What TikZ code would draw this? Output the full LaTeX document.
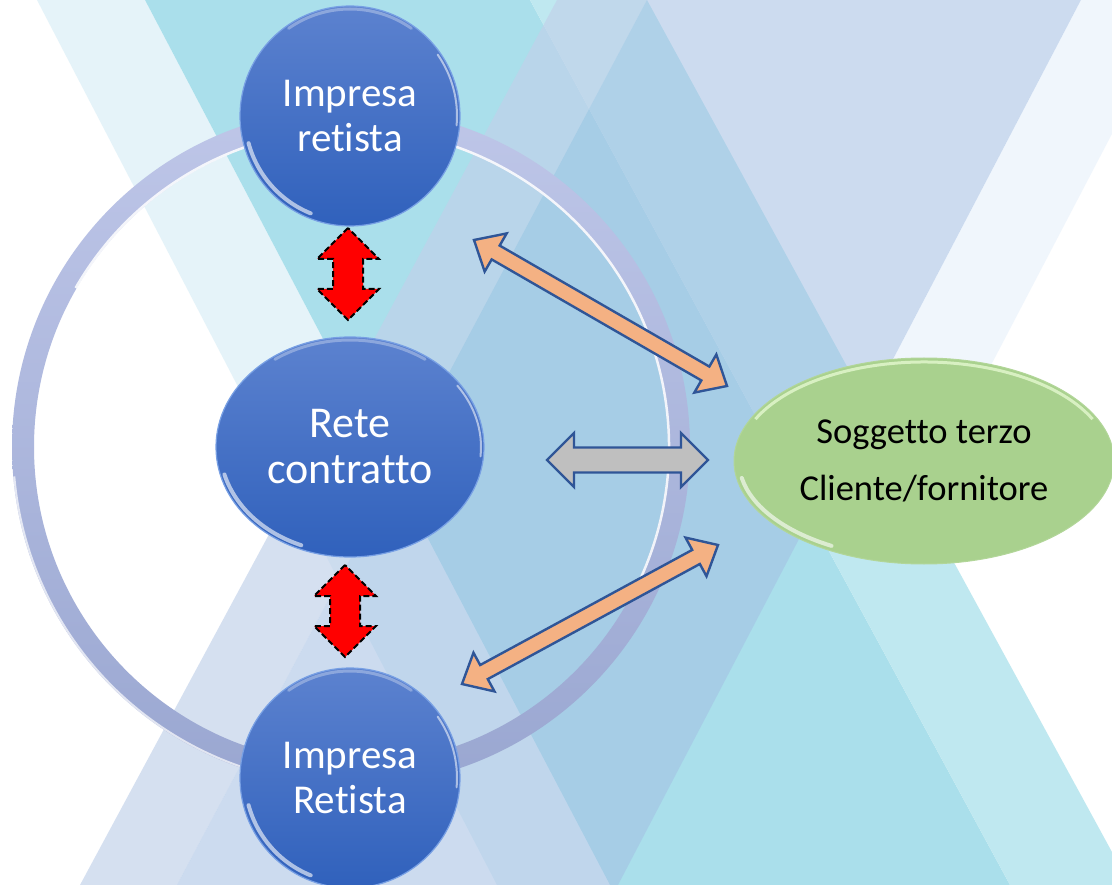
\documentclass[tikz,border=0pt]{standalone}
\usepackage{fontspec}
\setmainfont{Carlito}[Ligatures={NoCommon,NoContextual,NoRare}]
\usetikzlibrary{shapes.geometric}
\definecolor{bgE}{RGB}{229,243,249}
\definecolor{bgF}{RGB}{170,223,235}
\definecolor{bgG}{RGB}{191,232,240}
\definecolor{bgA}{RGB}{193,209,234}
\definecolor{bgB}{RGB}{163,191,227}
\definecolor{bgC}{RGB}{222,236,250}
\definecolor{ringTop}{RGB}{190,198,232}
\definecolor{ringBot}{RGB}{154,167,209}
\definecolor{blueTop}{RGB}{92,130,207}
\definecolor{blueBot}{RGB}{48,97,188}
\definecolor{blueRim}{RGB}{120,160,228}
\definecolor{greenFill}{RGB}{169,209,142}
\definecolor{greenRim}{RGB}{222,244,200}
\definecolor{arrowLine}{RGB}{47,85,151}
\definecolor{orangeFill}{RGB}{244,177,131}
\definecolor{grayFill}{RGB}{191,191,191}
\newdimen\baXa \newdimen\baYa \newdimen\baXb \newdimen\baYb
\newcommand\blockarrow[6]{%
  \pgfextractx{\baXa}{\pgfpointanchor{#2}{center}}%
  \pgfextracty{\baYa}{\pgfpointanchor{#2}{center}}%
  \pgfextractx{\baXb}{\pgfpointanchor{#3}{center}}%
  \pgfextracty{\baYb}{\pgfpointanchor{#3}{center}}%
  \pgfmathsetmacro\baAng{atan2(\the\baYb-\the\baYa,\the\baXb-\the\baXa)}%
  \pgfmathsetmacro\baLen{100*veclen((\the\baXb-\the\baXa)/100,(\the\baYb-\the\baYa)/100)}%
  \pgfmathsetmacro\baM{\baLen-#6}%
  \begin{scope}[shift={(#2)},rotate=\baAng]
    \draw[#1] (0,0) -- (#6,#5) -- (#6,#4) -- (\baM,#4) -- (\baM,#5) -- (\baLen,0)
      -- (\baM,-#5) -- (\baM,-#4) -- (#6,-#4) -- (#6,-#5) -- cycle;
  \end{scope}}
\begin{document}
\begin{tikzpicture}[x=1pt,y=-1pt,
  bluenode/.style={top color=blueTop, bottom color=blueBot, draw=blueRim, line width=1.2pt,
    text=white, align=center, inner sep=0pt},
  greennode/.style={fill=greenFill, draw=greenFill!90!white, line width=1pt, text=black,
    align=center, inner sep=0pt},
  redarrow/.style={fill=red, draw=black, line width=2pt, dash pattern=on 6pt off 3pt, line join=miter},
  orangearrow/.style={fill=orangeFill, draw=arrowLine, line width=2.4pt, line join=miter},
  grayarrow/.style={fill=grayFill, draw=arrowLine, line width=2.4pt, line join=miter},
  gloss/.style={white, opacity=.6, line width=4pt, line cap=round},
  sidegloss/.style={white, opacity=.55, line width=2pt, line cap=round},
  toprim/.style={white, opacity=.3, line width=3pt, line cap=round}]
\useasboundingbox (0,0) rectangle (1112,885);
% background bands
\begin{scope}
\clip (0,0) rectangle (1112,885);
\fill[white] (0,0) rectangle (1112,885);
\fill[bgE] (37,0) -- (145,0) -- (610,885) -- (497,885) -- cycle;
\fill[bgF] (145,0) -- (530,0) -- (1010,885) -- (610,885) -- cycle;
\fill[bgG] (530,0) -- (647,0) -- (1130,885) -- (1010,885) -- cycle;
\fill[bgA, opacity=.67] (557,0) -- (647,0) -- (177,885) -- (80,885) -- cycle;
\fill[bgB, opacity=.55] (647,0) -- (1081,0) -- (618,885) -- (177,885) -- cycle;
\begin{scope}
\clip (647,0) -- (1130,885) -- (1200,885) -- (1200,0) -- cycle;
\fill[bgC, opacity=.45] (1081,0) -- (1182,0) -- (719,885) -- (618,885) -- cycle;
\end{scope}
\end{scope}
% ring
\shade[top color=ringTop, bottom color=ringBot, even odd rule]
  (351,447) circle[radius=339] (351,447) circle[radius=317];
\draw[white, opacity=.85, line width=2.5pt] (351,447) ++(-150:318) arc[start angle=-150, end angle=25, radius=318];
\draw[white, opacity=.7, line width=2pt] (351,447) ++(-185:338) arc[start angle=-185, end angle=-265, radius=338];
% nodes
\node[bluenode, circle, minimum size=220, font=\fontsize{41}{45}\selectfont] (T) at (350,116) {Impresa\\retista};
\node[bluenode, ellipse, minimum width=268, minimum height=220, font=\fontsize{44}{46}\selectfont] (R) at (350,447) {Rete\\contratto};
\node[bluenode, circle, minimum size=220, font=\fontsize{41}{45}\selectfont] (B) at (350,778) {Impresa\\Retista};
\node[greennode, ellipse, minimum width=380, minimum height=206, font=\fontsize{36.5}{57}\selectfont] (G) at (924,461) {Soggetto terzo\\Cliente/fornitore};
% gloss highlights
\foreach \n in {T,B}{
  \draw[gloss] ([shift={(-195:105)}]\n.center) arc[start angle=-195, end angle=-248, radius=105];
  \draw[toprim] ([shift={(-55:107)}]\n.center) arc[start angle=-55, end angle=-125, radius=107];
  \draw[sidegloss] ([shift={(-35:107)}]\n.center) arc[start angle=-35, end angle=5, radius=107];
}
\draw[gloss] ([shift={(-195:130 and 106)}]R.center) arc[start angle=-195, end angle=-248, x radius=130, y radius=106];
\draw[toprim] ([shift={(-55:131 and 107)}]R.center) arc[start angle=-55, end angle=-125, x radius=131, y radius=107];
\draw[sidegloss] ([shift={(-35:131 and 107)}]R.center) arc[start angle=-35, end angle=5, x radius=131, y radius=107];
\draw[greenRim, line width=3pt, opacity=.9] ([shift={(-155:186 and 99)}]G.center) arc[start angle=-155, end angle=-25, x radius=186, y radius=99];
\draw[gloss] ([shift={(-190:185 and 98)}]G.center) arc[start angle=-190, end angle=-240, x radius=185, y radius=98];
% arrow end points
\coordinate (r1a) at (348,228); \coordinate (r1b) at (348,320);
\coordinate (r2a) at (345,565); \coordinate (r2b) at (345,657);
\coordinate (o1a) at (474,240); \coordinate (o1b) at (727,386);
\coordinate (o2a) at (462,684); \coordinate (o2b) at (718,545);
\coordinate (g1a) at (547,460); \coordinate (g1b) at (708,460);
\blockarrow{redarrow}{r1a}{r1b}{15}{31}{31}
\blockarrow{redarrow}{r2a}{r2b}{15}{31}{31}
\blockarrow{orangearrow}{o1a}{o1b}{8}{22}{25}
\blockarrow{orangearrow}{o2a}{o2b}{8}{22}{25}
\blockarrow{grayarrow}{g1a}{g1b}{12.5}{27}{27}
\end{tikzpicture}
\end{document}
